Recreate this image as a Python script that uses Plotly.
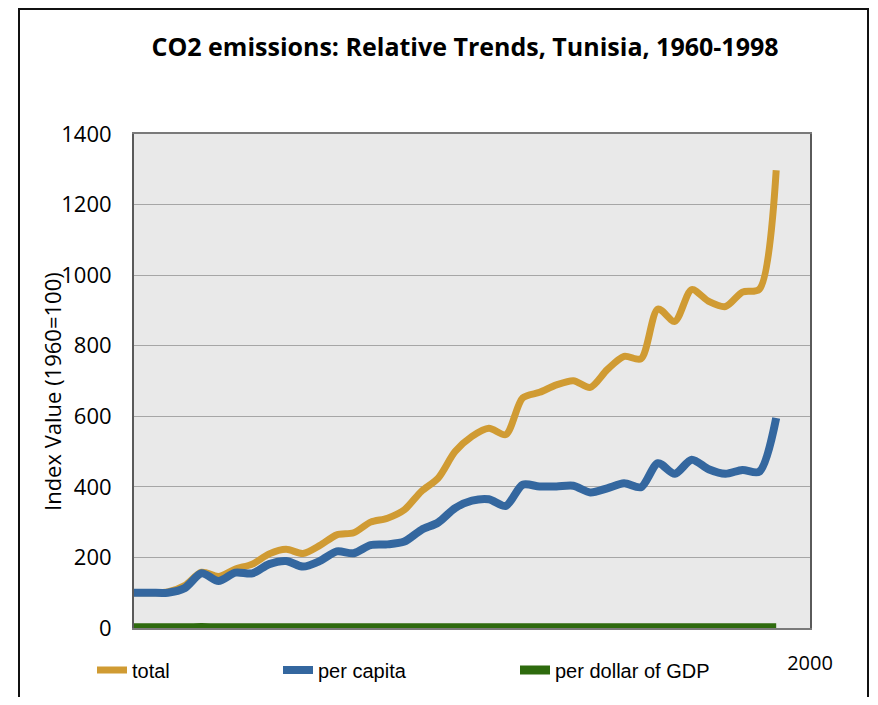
import plotly.graph_objects as go

years = list(range(1960, 1999))
total = [100, 100, 102, 120, 158, 146, 167, 181, 210, 223, 211, 234, 264, 270, 300,
         311, 335, 387, 425, 500, 543, 566, 548, 652, 668, 689, 701, 682, 732, 770,
         763, 904, 869, 959, 926, 911, 952, 960, 1297]
per_capita = [100, 100, 100, 113, 155, 133, 157, 155, 181, 190, 174, 190, 217, 212, 235,
              237, 245, 278, 299, 340, 361, 365, 346, 406, 401, 401, 403, 384, 396, 410,
              399, 467, 437, 477, 450, 437, 448, 443, 595]
per_gdp = [1.0, 1.0, 1.0, 1.0, 1.1, 1.0, 1.0, 1.0, 1.0, 1.0, 1.0, 1.0, 1.0, 1.0, 1.0,
           1.0, 1.0, 1.0, 1.0, 1.0, 1.0, 1.0, 1.0, 1.0, 1.0, 1.0, 1.0, 1.0, 1.0, 1.0,
           1.0, 1.0, 1.0, 1.0, 1.0, 1.0, 1.0, 1.0, 1.0]
y_ticks = [0, 200, 400, 600, 800, 1000, 1200, 1400]
x_ticks = [2000]

OFF = 8  # page body margin
W, H = 862, 689
L, R, T, B = 126, 60, 126, 69
pw, ph = W - L - R, H - T - B


def fx(p):
    return (p - OFF - L) / pw


def fy(p):
    return (H - B - (p - OFF)) / ph


def cx(p):
    return (p - OFF) / W


def cy(p):
    return 1 - (p - OFF) / H


fig = go.Figure()
fig.add_trace(go.Scatter(x=years, y=total, name="total", mode="lines",
                         line=dict(color="#D09B33", width=7, shape="spline", smoothing=0.8),
                         legend="legend"))
fig.add_trace(go.Scatter(x=years, y=per_capita, name="per capita", mode="lines",
                         line=dict(color="#34679F", width=8, shape="spline", smoothing=0.8),
                         legend="legend2"))
fig.add_trace(go.Scatter(x=years, y=per_gdp, name="per dollar of GDP", mode="lines",
                         line=dict(color="#2E6B0E", width=9, shape="spline", smoothing=0.8),
                         legend="legend3"))

legfont = dict(family="Liberation Sans, Arial, sans-serif", size=20, color="#000")
leg_common = dict(orientation="h", xanchor="left", yanchor="middle",
                  xref="container", yref="container",
                  font=legfont, bgcolor="rgba(0,0,0,0)", itemwidth=30,
                  tracegroupgap=0, visible=True)

fig.update_layout(
    width=W, height=H,
    margin=dict(l=L, r=R, t=T, b=B, autoexpand=False),
    paper_bgcolor="white",
    plot_bgcolor="#E9E9E9",
    showlegend=True,
    title=dict(text="<b>CO2 emissions: Relative Trends, Tunisia, 1960-1998</b>",
               x=cx(465), xanchor="center", y=cy(47), yanchor="middle",
               font=dict(family="Open Sans, sans-serif", size=25, color="#000")),
    xaxis=dict(range=[1960, 2000], tickvals=x_ticks, ticktext=[str(v) for v in x_ticks],
               showgrid=False, zeroline=False, showline=True, linecolor="#7a7a7a",
               linewidth=2, mirror=True, ticks="", ticklabelstandoff=16, automargin=False,
               tickfont=dict(family="Open Sans, sans-serif", size=20, color="#000")),
    yaxis=dict(range=[0, 1400], tickvals=y_ticks, showgrid=True, gridcolor="#A6A6A6",
               gridwidth=1, zeroline=False, showline=True, linecolor="#5a5a5a",
               linewidth=2, mirror=True, ticks="", ticklabelstandoff=16, automargin=False,
               tickfont=dict(family="Open Sans, sans-serif", size=22, color="#000")),
    legend=dict(x=cx(92), y=cy(670), **leg_common),
    legend2=dict(x=cx(278), y=cy(670), **leg_common),
    legend3=dict(x=cx(515), y=cy(670), **leg_common),
    annotations=[dict(text="Index Value (1960=100)", textangle=-90, showarrow=False,
                      xref="paper", yref="paper", x=fx(52), y=fy(392),
                      xanchor="center", yanchor="middle",
                      font=dict(family="Open Sans, sans-serif", size=22, color="#000"))],
    shapes=[dict(type="rect", xref="paper", yref="paper",
                 x0=fx(19), x1=fx(868), y0=fy(730), y1=fy(9),
                 line=dict(color="#111", width=2), fillcolor="rgba(0,0,0,0)", layer="below")],
)

fig.write_html("out.html")
